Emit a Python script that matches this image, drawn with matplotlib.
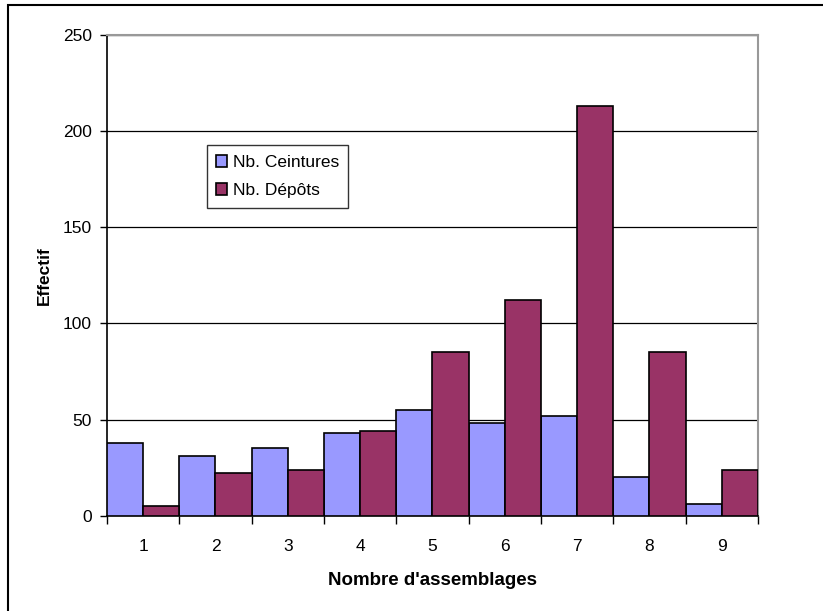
import matplotlib.pyplot as plt
from matplotlib.patches import Rectangle
import numpy as np

plt.rcParams['font.family'] = ['Liberation Sans', 'DejaVu Sans']

categories = ['1', '2', '3', '4', '5', '6', '7', '8', '9']
ceintures = [38, 31, 35, 43, 55, 48, 52, 20, 6]
depots = [5, 22, 24, 44, 85, 112, 213, 85, 24]
y_ticks = [0, 50, 100, 150, 200, 250]

fig = plt.figure(figsize=(8.23, 6.11), dpi=100)
ax = fig.add_axes([0.130, 0.156, 0.791, 0.787])

# outer frame of the chart area
fig.patches.append(Rectangle((8 / 823, -0.1), 1.2, 1 - 4.5 / 611 + 0.1,
                             transform=fig.transFigure, fill=False,
                             edgecolor='black', linewidth=1.5))

x = np.arange(len(categories))
w = 0.5
ax.bar(x - w / 2, ceintures, w, color='#9999FF', edgecolor='black',
       linewidth=1.2, label='Nb. Ceintures', zorder=3)
ax.bar(x + w / 2, depots, w, color='#993366', edgecolor='black',
       linewidth=1.2, label='Nb. Dépôts', zorder=3)

ax.set_xlim(-0.5, len(categories) - 0.5)
ax.set_ylim(0, 250)
ax.set_yticks(y_ticks)
ax.yaxis.grid(True, color='black', linewidth=0.9, zorder=0)

ax.set_xticks(x)
ax.set_xticklabels(categories)
ax.set_xticks(np.arange(-0.5, len(categories)), minor=True)
ax.tick_params(axis='x', which='major', length=0, pad=17, labelsize=12.5)
ax.tick_params(axis='x', which='minor', length=6, width=1, color='black')
ax.tick_params(axis='y', length=5, width=1, pad=6, labelsize=12.5)

for side in ['left', 'bottom']:
    ax.spines[side].set_color('black')
    ax.spines[side].set_linewidth(1.2)
for side in ['top', 'right']:
    ax.spines[side].set_color('#999999')
    ax.spines[side].set_linewidth(1.5)

ax.set_xlabel("Nombre d'assemblages", fontsize=13.5, fontweight='bold', labelpad=13)
ax.set_ylabel('Effectif', fontsize=12.5, fontweight='bold', labelpad=8)

leg = ax.legend(loc='upper left', bbox_to_anchor=(0.153, 0.77), fontsize=12.5,
                frameon=True, fancybox=False, shadow=False, borderpad=0.55,
                handlelength=0.65, handleheight=0.65, handletextpad=0.3,
                labelspacing=0.75, borderaxespad=0)
leg.get_frame().set_edgecolor('black')
leg.get_frame().set_linewidth(1.0)

fig.savefig('out.png', dpi=100)
